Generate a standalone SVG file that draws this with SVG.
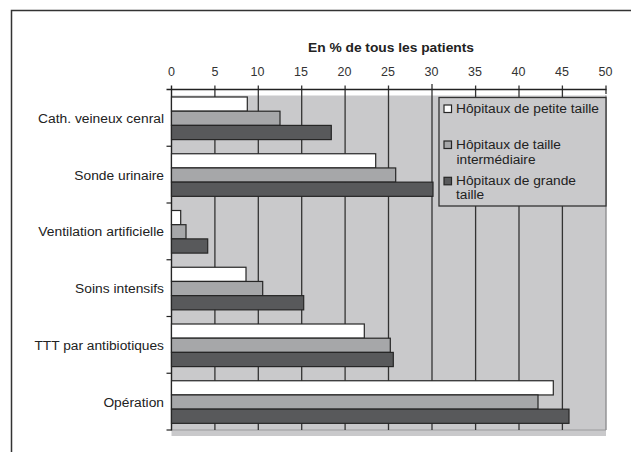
<svg xmlns="http://www.w3.org/2000/svg" width="631" height="452" viewBox="0 0 631 452">
<style>
text{font-family:"Liberation Sans",Arial,sans-serif;fill:#222}
.lbl{font-size:12.5px;text-anchor:end}
.tick{font-size:12.5px;text-anchor:middle;fill:#333}
.leg{font-size:12.5px}
.grid{stroke:#333;stroke-width:1.3}
.bw{fill:#ffffff;stroke:#262626;stroke-width:1.2}
.bg{fill:#a6a7a9;stroke:#262626;stroke-width:1.2}
.bd{fill:#58595b;stroke:#262626;stroke-width:1.2}
</style>
<rect width="631" height="452" fill="#ffffff"/>
<!-- frame -->
<path d="M11.5,452 V10.5 H631" fill="none" stroke="#333" stroke-width="1.5"/>
<!-- title -->
<text x="391" y="52" font-size="12px" font-weight="bold" text-anchor="middle" textLength="166" lengthAdjust="spacingAndGlyphs">En % de tous les patients</text>
<!-- plot area -->
<g id="plot-area">
<rect x="171.5" y="95.5" width="434.5" height="340.5" fill="#c9c9cb"/>
<line x1="171.5" y1="430" x2="606" y2="430" stroke="#9b9b9d" stroke-width="1.2"/>
<line x1="606" y1="95.5" x2="606" y2="430" stroke="#8f8f91" stroke-width="1.4"/>
</g>
<!-- gridlines and axes -->
<g id="axes">
<line class="grid" x1="214.9" y1="85.5" x2="214.9" y2="430"/>
<line class="grid" x1="258.3" y1="85.5" x2="258.3" y2="430"/>
<line class="grid" x1="301.7" y1="85.5" x2="301.7" y2="430"/>
<line class="grid" x1="345.1" y1="85.5" x2="345.1" y2="430"/>
<line class="grid" x1="388.5" y1="85.5" x2="388.5" y2="430"/>
<line class="grid" x1="432" y1="84" x2="432" y2="430" stroke-width="1.7"/>
<line class="grid" x1="475.6" y1="85.5" x2="475.6" y2="430"/>
<line class="grid" x1="519" y1="85.5" x2="519" y2="430"/>
<line class="grid" x1="562.4" y1="85.5" x2="562.4" y2="430"/>
<line class="grid" x1="606" y1="85.5" x2="606" y2="94"/>
<line x1="166.5" y1="89.5" x2="606.5" y2="89.5" stroke="#222" stroke-width="1.4"/>
<line x1="171.5" y1="85.5" x2="171.5" y2="430.5" stroke="#222" stroke-width="1.4"/>
<g stroke="#222" stroke-width="1.2">
<line x1="166.5" y1="146.25" x2="171.5" y2="146.25"/>
<line x1="166.5" y1="203" x2="171.5" y2="203"/>
<line x1="166.5" y1="259.75" x2="171.5" y2="259.75"/>
<line x1="166.5" y1="316.5" x2="171.5" y2="316.5"/>
<line x1="166.5" y1="373.25" x2="171.5" y2="373.25"/>
<line x1="166.5" y1="430" x2="171.5" y2="430"/>
</g>
<text class="tick" x="171.5" y="75.5">0</text>
<text class="tick" x="214.9" y="75.5">5</text>
<text class="tick" x="257.5" y="75.5">10</text>
<text class="tick" x="301" y="75.5">15</text>
<text class="tick" x="344.5" y="75.5">20</text>
<text class="tick" x="388" y="75.5">25</text>
<text class="tick" x="431.5" y="75.5">30</text>
<text class="tick" x="475" y="75.5">35</text>
<text class="tick" x="518.5" y="75.5">40</text>
<text class="tick" x="562" y="75.5">45</text>
<text class="tick" x="605.5" y="75.5">50</text>
</g>
<!-- categories -->
<g id="cat-cath">
<text class="lbl" x="164" y="123" textLength="126" lengthAdjust="spacingAndGlyphs">Cath. veineux cenral</text>
<rect class="bw" x="171.5" y="97" width="75.8" height="14.2"/>
<rect class="bg" x="171.5" y="111.2" width="108.5" height="14.2"/>
<rect class="bd" x="171.5" y="125.4" width="159.8" height="14.2"/>
</g>
<g id="cat-sonde">
<text class="lbl" x="164" y="179.7" textLength="89.7" lengthAdjust="spacingAndGlyphs">Sonde urinaire</text>
<rect class="bw" x="171.5" y="153.75" width="204.2" height="14.2"/>
<rect class="bg" x="171.5" y="167.95" width="224.2" height="14.2"/>
<rect class="bd" x="171.5" y="182.15" width="261.5" height="14.2"/>
</g>
<g id="cat-ventilation">
<text class="lbl" x="164" y="236.4" textLength="125.7" lengthAdjust="spacingAndGlyphs">Ventilation artificielle</text>
<rect class="bw" x="171.5" y="210.5" width="9.2" height="14.2"/>
<rect class="bg" x="171.5" y="224.7" width="14.5" height="14.2"/>
<rect class="bd" x="171.5" y="238.9" width="36.2" height="14.2"/>
</g>
<g id="cat-soins">
<text class="lbl" x="164" y="293.1" textLength="88.9" lengthAdjust="spacingAndGlyphs">Soins intensifs</text>
<rect class="bw" x="171.5" y="267.25" width="74.5" height="14.2"/>
<rect class="bg" x="171.5" y="281.45" width="91.2" height="14.2"/>
<rect class="bd" x="171.5" y="295.65" width="132.2" height="14.2"/>
</g>
<g id="cat-ttt">
<text class="lbl" x="164" y="349.9" textLength="129.6" lengthAdjust="spacingAndGlyphs">TTT par antibiotiques</text>
<rect class="bw" x="171.5" y="324" width="192.8" height="14.2"/>
<rect class="bg" x="171.5" y="338.2" width="218.8" height="14.2"/>
<rect class="bd" x="171.5" y="352.4" width="221.8" height="14.2"/>
</g>
<g id="cat-operation">
<text class="lbl" x="164" y="406.6" textLength="60.6" lengthAdjust="spacingAndGlyphs">Opération</text>
<rect class="bw" x="171.5" y="380.75" width="381.8" height="14.2"/>
<rect class="bg" x="171.5" y="394.95" width="366.5" height="14.2"/>
<rect class="bd" x="171.5" y="409.15" width="397.5" height="14.2"/>
</g>
<!-- legend -->
<g id="legend">
<rect x="439" y="97.5" width="167" height="108.5" fill="#c9c9cb" stroke="#333" stroke-width="1.3"/>
<rect class="bw" x="444" y="105" width="7.5" height="7.5"/>
<text class="leg" x="456" y="113.3" textLength="143" lengthAdjust="spacingAndGlyphs">Hôpitaux de petite taille</text>
<rect class="bg" x="444" y="141" width="7.5" height="7.5"/>
<text class="leg" x="456" y="149" textLength="105" lengthAdjust="spacingAndGlyphs">Hôpitaux de taille</text>
<text class="leg" x="456.5" y="163.5" textLength="79" lengthAdjust="spacingAndGlyphs">intermédiaire</text>
<rect class="bd" x="444" y="177.3" width="7.5" height="7.5"/>
<text class="leg" x="456" y="184.5" textLength="120" lengthAdjust="spacingAndGlyphs">Hôpitaux de grande</text>
<text class="leg" x="456" y="199.3" textLength="28.2" lengthAdjust="spacingAndGlyphs">taille</text>
</g>
</svg>
